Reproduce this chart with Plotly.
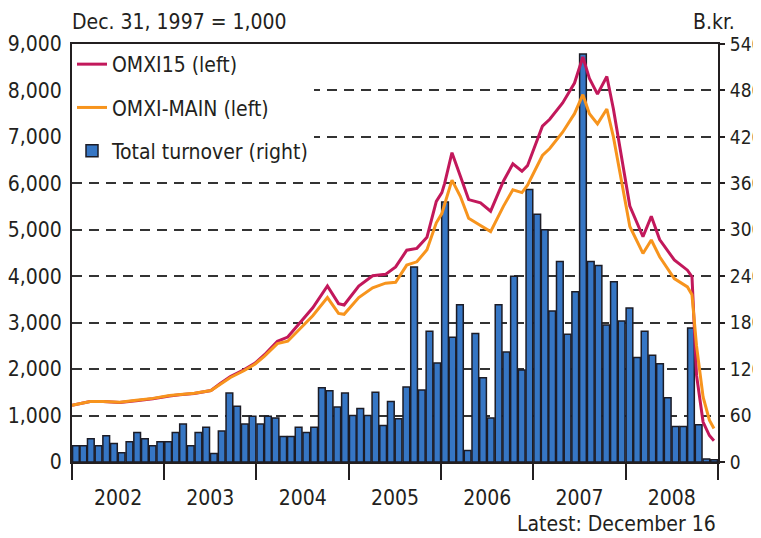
import pandas as pd
import plotly.graph_objects as go

FONT = "Liberation Sans Narrow, DejaVu Sans Condensed, Arial Narrow, sans-serif"
INK = "#231f20"

# monthly total turnover, B.kr. (right axis)
months = pd.date_range("2002-01-01", "2008-12-01", freq="MS")
turnover = [
    21, 21, 30, 21, 34, 24, 12, 26, 38, 30, 21, 26,          # 2002
    26, 38, 49, 21, 38, 45, 11, 40, 89, 72, 49, 59,          # 2003
    49, 59, 57, 33, 33, 45, 38, 45, 96, 92, 71, 89,          # 2004
    60, 69, 60, 90, 47, 78, 56, 97, 252, 93, 169, 128,       # 2005
    336, 161, 203, 15, 166, 109, 57, 203, 142, 240, 119, 352,  # 2006
    320, 300, 195, 259, 165, 220, 527, 259, 254, 177, 233, 182,  # 2007
    199, 135, 169, 138, 127, 83, 46, 46, 173, 48, 4, 3,      # 2008
]

# index levels (left axis)
omxi15_dates = [
    "2002-01-01", "2002-03-14", "2002-05-04", "2002-07-09", "2002-09-12", "2002-11-17",
    "2003-01-22", "2003-03-03", "2003-04-30", "2003-07-05", "2003-08-11", "2003-09-20",
    "2003-11-14", "2003-12-27", "2004-02-02", "2004-03-24", "2004-05-04", "2004-06-17",
    "2004-08-11", "2004-10-08", "2004-11-21", "2004-12-13", "2005-02-09", "2005-04-05",
    "2005-05-26", "2005-07-05", "2005-08-18", "2005-09-27", "2005-11-06", "2005-12-13",
    "2006-01-04", "2006-01-15", "2006-02-13", "2006-03-18", "2006-04-20", "2006-06-06",
    "2006-07-16", "2006-09-05", "2006-10-12", "2006-11-17", "2006-12-09", "2007-02-06",
    "2007-03-07", "2007-04-27", "2007-06-13", "2007-07-16", "2007-08-11", "2007-09-12",
    "2007-10-19", "2007-11-14", "2007-12-09", "2008-01-18", "2008-03-10", "2008-04-12",
    "2008-05-15", "2008-07-12", "2008-09-02", "2008-09-20", "2008-10-08", "2008-11-03",
    "2008-11-28", "2008-12-16",
]
omxi15 = [
    1220, 1300, 1300, 1280, 1320, 1360,
    1420, 1450, 1475, 1540, 1690, 1840,
    1990, 2130, 2310, 2600, 2690, 2980,
    3320, 3790, 3410, 3380, 3790, 4010,
    4040, 4200, 4560, 4600, 4840, 5610,
    5800, 6000, 6660, 6160, 5650, 5580,
    5400, 6050, 6420, 6260, 6380, 7230,
    7380, 7730, 8160, 8720, 8260, 7920,
    8300, 7600, 6780, 5510, 4850, 5290,
    4790, 4350, 4130, 3990, 1870, 860,
    570, 460,
]
omxi_main = [
    1220, 1300, 1300, 1285, 1330, 1370,
    1430, 1455, 1480, 1540, 1680, 1820,
    1970, 2110, 2280, 2550, 2600, 2850,
    3150, 3540, 3200, 3180, 3540, 3750,
    3850, 3870, 4240, 4310, 4570, 5150,
    5350, 5550, 6070, 5720, 5250, 5090,
    4960, 5510, 5860, 5800, 5960, 6600,
    6750, 7100, 7500, 7910, 7500, 7280,
    7600, 7000, 6230, 5070, 4490, 4780,
    4420, 3950, 3770, 3600, 2500, 1400,
    900, 720,
]

fig = go.Figure()
fig.add_trace(go.Scatter(x=omxi15_dates, y=omxi15, name="OMXI15 (left)", yaxis="y2",
                         mode="lines", line=dict(color="#c2185b", width=3),
                         legendgroup="a"))
fig.add_trace(go.Scatter(x=omxi15_dates, y=omxi_main, name="OMXI-MAIN (left)", yaxis="y2",
                         mode="lines", line=dict(color="#f7941d", width=3),
                         legendgroup="b"))
fig.add_trace(go.Bar(x=months, y=turnover, name="Total turnover (right)", yaxis="y",
                     xperiod="M1", xperiodalignment="middle",
                     marker=dict(color="#3676c4", line=dict(color="#1c1c26", width=1.5)),
                     legendgroup="c"))

# the page body adds an 8px margin, so the figure is a bit smaller than the window
fig.update_layout(
    width=753, height=530,
    margin=dict(l=64, r=43, t=36, b=76),
    paper_bgcolor="white", plot_bgcolor="white",
    font=dict(family=FONT, size=22, color=INK),
    bargap=0.1,
    showlegend=True,
    legend=dict(x=0.0, y=1.0, xanchor="left", yanchor="top", bgcolor="white",
                font=dict(size=21), tracegroupgap=13, itemwidth=30),
    xaxis=dict(type="date", range=["2002-01-01", "2009-01-01"], dtick="M12",
               tick0="2002-01-01", ticklabelmode="period", tickformat="%Y",
               ticks="outside", ticklen=16, tickwidth=2, tickcolor=INK,
               showline=True, linewidth=2, linecolor=INK, mirror=True,
               showgrid=False, automargin=False, tickfont=dict(size=21)),
    yaxis=dict(side="right", range=[0, 540], dtick=60, tick0=0,
               ticks="outside", ticklen=5, tickwidth=2, tickcolor=INK,
               showline=True, linewidth=2, linecolor=INK,
               showgrid=True, gridcolor="#333333", gridwidth=2, griddash="10px,7px",
               zeroline=False, automargin=False, ticklabelstandoff=1,
               tickfont=dict(size=19)),
    yaxis2=dict(side="left", overlaying="y", range=[0, 9000], dtick=1000, tick0=0,
                tickformat=",d", showline=True, linewidth=2, linecolor=INK,
                showgrid=False, zeroline=False, ticks="", automargin=False,
                ticklabelstandoff=4, tickfont=dict(size=21)),
    annotations=[
        dict(text="Dec. 31, 1997 = 1,000", xref="paper", yref="paper", x=-0.003, y=1.02,
             xanchor="left", yanchor="bottom", showarrow=False, font=dict(size=21)),
        dict(text="B.kr.", xref="paper", yref="paper", x=1.03, y=1.02,
             xanchor="right", yanchor="bottom", showarrow=False, font=dict(size=21)),
        dict(text="Latest: December 16", xref="paper", yref="paper", x=1.0, y=-0.115,
             xanchor="right", yanchor="top", showarrow=False, font=dict(size=21)),
    ],
)

fig.write_html("out.html")
